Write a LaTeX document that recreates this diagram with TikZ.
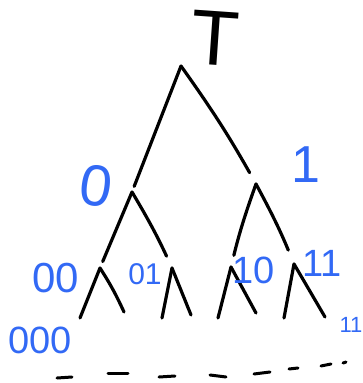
\documentclass[tikz,border=0pt]{standalone}
\usepackage{fontspec}
\setmainfont{Liberation Sans}
\usepackage{xcolor}
\usetikzlibrary{positioning}
\definecolor{penBlue}{RGB}{50,105,245}

\begin{document}
\begin{tikzpicture}[
			x=1pt, y=-1pt,
			branch/.style={
				line width=3.2pt,
				line cap=round,
				black
			},
			bitlabel/.style={
				inner sep=0pt,
				text=penBlue
			},
			dashpart/.style={
				line width=3pt,
				line cap=round,
				black
			}
			]
			
			\useasboundingbox (0,0) rectangle (363,383);
			
			% Title
			\node[inner sep=0pt, rotate=-4] (T) at (215,38) {\fontsize{78}{78}\selectfont T};
			
			% Tree vertices
			\coordinate (r) at (181,66);
			\coordinate (n0) at (132,192);
			\coordinate (n1) at (256,184);
			\coordinate (n00) at (100,268);
			\coordinate (n01) at (172,268);
			\coordinate (n10) at (231,267);
			\coordinate (n11) at (294,264);
			
			% Leaves
			\coordinate (l000) at (80,318);
			\coordinate (l001) at (124,312);
			\coordinate (l010) at (162,318);
			\coordinate (l011) at (191,315);
			\coordinate (l100) at (218,318);
			\coordinate (l101) at (256,313);
			\coordinate (l110) at (284,318);
			\coordinate (l111) at (325,317);
			
			% Branches
			\draw[branch, shorten >=6pt] (r) -- (n0);
			\draw[branch, shorten >=13pt] (r) to[bend left=3] (n1);
			\draw[branch, shorten >=7pt] (n0) -- (n00);
			\draw[branch, shorten >=13pt] (n0) to[bend left=3] (n01);
			\draw[branch, shorten >=12pt] (n1) to[bend right=3] (n10);
			\draw[branch, shorten >=15pt] (n1) to[bend left=3] (n11);
			\draw[branch] (n00) -- (l000);
			\draw[branch] (n00) to[bend left=4] (l001);
			\draw[branch] (n01) -- (l010);
			\draw[branch] (n01) -- (l011);
			\draw[branch] (n10) -- (l100);
			\draw[branch] (n10) -- (l101);
			\draw[branch] (n11) -- (l110);
			\draw[branch] (n11) -- (l111);
			
			% Labels
			\node[bitlabel, rotate=-8] (b0) at (96,186) {\fontsize{58}{58}\selectfont 0};
			\node[bitlabel] (b1) at (306,165) {\fontsize{52}{52}\selectfont 1};
			\node[bitlabel] (b00) at (56,278) {\fontsize{42}{42}\selectfont 00};
			\node[bitlabel] (b01) at (145,274) {\fontsize{30}{30}\selectfont 01};
			\node[bitlabel] (b10) at (254,270) {\fontsize{38}{38}\selectfont 10};
			\node[bitlabel] (b11) at (322,263) {\fontsize{38}{38}\selectfont 11};
			\node[bitlabel] (b000) at (40,340) {\fontsize{38}{38}\selectfont 000};
			\node[bitlabel] (b111) at (351,325) {\fontsize{22}{22}\selectfont 11};
			
			% Dashes below
			\draw[dashpart] (57,378) -- (72,377);
			\draw[dashpart] (108,373) -- (128,373);
			\draw[dashpart] (159,377) -- (175,376);
			\draw[dashpart] (210,375) -- (226,377);
			\draw[dashpart] (254,374) -- (270,372);
			\draw[dashpart] (289,369) -- (298,368);
			\draw[dashpart] (321,366) -- (331,364);
			\draw[dashpart] (343,363) -- (346,362);
			
		\end{tikzpicture}
\end{document}
